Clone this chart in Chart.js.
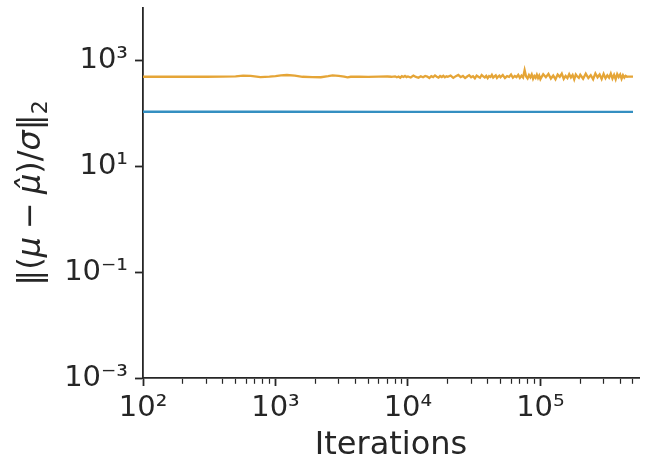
<!DOCTYPE html>
<html>
<head>
<meta charset="utf-8">
<script src="https://cdn.jsdelivr.net/npm/chart.js@4/dist/chart.umd.min.js"></script>
<style>
  body { margin: 0; background: #fff; }
  #wrap { width: 648px; height: 473px; }
</style>
</head>
<body>
<div id="wrap"><canvas id="myChart" width="648" height="473"></canvas></div>
<script>
'use strict';

// iterations where the orange run was sampled
var orangeIters = [
  100, 200, 300, 400, 500, 570, 650, 770, 900, 1000, 1100, 1220, 1400, 1600, 1900,
  2200, 2500, 2700, 3000, 3300, 3500, 3700, 4300, 5000, 6000, 7000, 7500,
  8000, 8250, 8500, 8750, 9000, 9250, 9500, 9750,
  10000, 10500, 11000, 11500, 12000, 12500, 13000, 13500, 14000, 14500,
  15000, 15500, 16000, 16500, 17000, 17500, 18000, 18500, 19000, 19500,
  20000, 21000, 22000, 23000, 24000, 25000, 26000, 27000, 28000, 29000,
  30000, 31000, 32000, 33000, 34000, 35000, 36000, 37000, 38000, 39000,
  40000, 41000, 42000, 43000, 44000, 45000, 46000, 47000, 48000, 49000,
  50000, 52000, 54000, 56000, 58000, 60000, 62000, 64000, 66000, 68000,
  70000, 72000, 74000, 76000, 78000, 80000, 82000, 84000, 86000, 88000,
  90000, 92000, 94000, 96000, 98000,
  100000, 105000, 110000, 115000, 120000, 125000, 130000, 135000, 140000, 145000,
  150000, 155000, 160000, 165000, 170000, 175000, 180000, 185000, 190000, 195000,
  200000, 210000, 220000, 230000, 240000, 250000, 260000, 270000, 280000, 290000,
  300000, 310000, 320000, 330000, 340000, 350000, 360000, 370000, 380000, 390000,
  400000, 410000, 420000, 430000, 440000, 450000,
  460000, 480000, 500000
];
var orangeValues = [
  500, 500, 500, 503, 510, 524, 518, 492, 503, 516, 532, 540, 526, 500, 494,
  490, 512, 530, 520, 503, 486, 500, 505, 498, 503, 506, 500,
  510, 490, 505, 480, 513, 495, 518, 492,
  507, 484, 526, 497, 478, 511, 489, 518, 503, 474,
  513, 493, 530, 500, 482, 516, 495, 522, 487, 509,
  498, 527, 477, 514, 543, 491, 518, 472, 505, 536,
  489, 511, 468, 527, 500, 479, 540, 507, 486, 520,
  470, 514, 495, 545, 483, 509, 531, 474, 505, 525,
  490, 540, 472, 514, 498, 553, 479, 518, 493, 543,
  476, 525, 486, 670, 505, 464, 541, 489, 553, 458,
  518, 479, 547, 472, 527,
  452, 558, 490, 567, 463, 527, 449, 549, 498, 572,
  455, 518, 472, 561, 486, 541, 445, 553, 504, 477,
  545, 458, 572, 472, 536, 449, 580, 489, 553, 453,
  567, 467, 531, 480, 576, 463, 543, 447, 562, 495,
  553, 458, 536, 482, 522, 500,
  505, 505, 505
];

// blue run is practically flat
var blueIters = [100, 1000, 10000, 100000, 500000];
var blueValues = [109, 109, 108, 108, 108];

var xMajor = [100, 1000, 10000, 100000];
var xTickLabels = ['10\u00b2', '10\u00b3', '10\u2074', '10\u2075'];
var yMajor = [0.001, 0.1, 10, 1000];
var yTickLabels = ['10\u207b\u00b3', '10\u207b\u00b9', '10\u00b9', '10\u00b3'];

var ink = '#262626';
var fam = "'DejaVu Sans', sans-serif";

function pairs(xs, ys) {
  var out = [];
  for (var i = 0; i < xs.length; i++) out.push({x: xs[i], y: ys[i]});
  return out;
}

// minor ticks 2..9 in every decade up to the axis end
var xMax = 555000;
var xTicks = [];
for (var d = 0; d < xMajor.length; d++) {
  for (var m = 1; m < 10; m++) {
    var v = xMajor[d] * m;
    if (v <= xMax) xTicks.push(v);
  }
}

function isMajor(v) {
  return xMajor.indexOf(v) !== -1;
}

// y label with math styling: ||(mu - mu_hat)/sigma||_2
var yLabelPlugin = {
  id: 'yLabel',
  afterDraw: function (chart) {
    var c = chart.ctx;
    var parts = [
      {t: '\u2016(', it: false},
      {t: '\u03bc', it: true},
      {t: '\u2005\u2212\u2005', it: false},
      {t: '\u03bc\u0302', it: true},
      {t: ')/', it: false},
      {t: '\u03c3', it: true},
      {t: '\u2016', it: false},
      {t: '2', it: false, sub: true}
    ];
    var total = 0;
    parts.forEach(function (p) {
      c.font = (p.it ? 'italic ' : '') + (p.sub ? '22px ' : '32px ') + fam;
      p.w = c.measureText(p.t).width;
      total += p.w;
    });
    var mid = (chart.chartArea.top + chart.chartArea.bottom) / 2;
    c.save();
    c.translate(40, mid);
    c.rotate(-Math.PI / 2);
    c.fillStyle = ink;
    c.textBaseline = 'alphabetic';
    var x = -total / 2;
    parts.forEach(function (p) {
      c.font = (p.it ? 'italic ' : '') + (p.sub ? '22px ' : '32px ') + fam;
      c.fillText(p.t, x, p.sub ? 7 : 0);
      x += p.w;
    });
    c.restore();
  }
};

var config = {
  type: 'line',
  data: {
    datasets: [{
      label: 'blue',
      data: pairs(blueIters, blueValues),
      borderColor: 'rgb(52,143,193)',
      borderWidth: 2.3,
      pointRadius: 0,
      tension: 0
    }, {
      label: 'orange',
      data: pairs(orangeIters, orangeValues),
      borderColor: 'rgb(229,165,55)',
      borderWidth: 2.3,
      pointRadius: 0,
      tension: 0
    }]
  },
  options: {
    responsive: false,
    animation: false,
    layout: {padding: {top: 8, right: 9, left: 0, bottom: 0}},
    plugins: {legend: {display: false}, tooltip: {enabled: false}},
    scales: {
      x: {
        type: 'logarithmic',
        min: 100,
        max: xMax,
        border: {color: ink, width: 1.8},
        grid: {
          drawOnChartArea: false,
          tickLength: 8,
          tickColor: ink,
          tickWidth: function (ctx) { return ctx.tick && isMajor(ctx.tick.value) ? 1.8 : 1.2; },
          tickBorderDash: function (ctx) { return ctx.tick && isMajor(ctx.tick.value) ? [] : [5, 30]; }
        },
        ticks: {
          autoSkip: false,
          maxRotation: 0,
          color: ink,
          padding: 5,
          font: {size: 29, family: fam},
          callback: function (value) {
            var i = xMajor.indexOf(value);
            return i === -1 ? '' : xTickLabels[i];
          }
        },
        title: {
          display: true,
          text: 'Iterations',
          color: ink,
          font: {size: 32, family: fam},
          padding: {top: 0, bottom: 8}
        },
        afterBuildTicks: function (scale) {
          scale.ticks = xTicks.map(function (v) { return {value: v}; });
        },
        afterFit: function (scale) {
          scale.height = 95;
          scale.paddingLeft = 0;
          scale.paddingRight = 0;
        }
      },
      y: {
        type: 'logarithmic',
        min: 0.001,
        max: 10000,
        border: {color: ink, width: 1.8},
        grid: {drawOnChartArea: false, tickLength: 8, tickColor: ink, tickWidth: 1.8},
        ticks: {
          color: ink,
          padding: 7,
          font: {size: 29, family: fam},
          callback: function (value) {
            var i = yMajor.indexOf(value);
            return i === -1 ? '' : yTickLabels[i];
          }
        },
        afterBuildTicks: function (scale) {
          scale.ticks = yMajor.map(function (v) { return {value: v}; });
        },
        afterFit: function (scale) {
          scale.width = 143;
          scale.paddingTop = 0;
          scale.paddingBottom = 0;
        }
      }
    }
  },
  plugins: [yLabelPlugin]
};

var ctx = document.getElementById('myChart').getContext('2d');
window.myLine = new Chart(ctx, config);
</script>
</body>
</html>
